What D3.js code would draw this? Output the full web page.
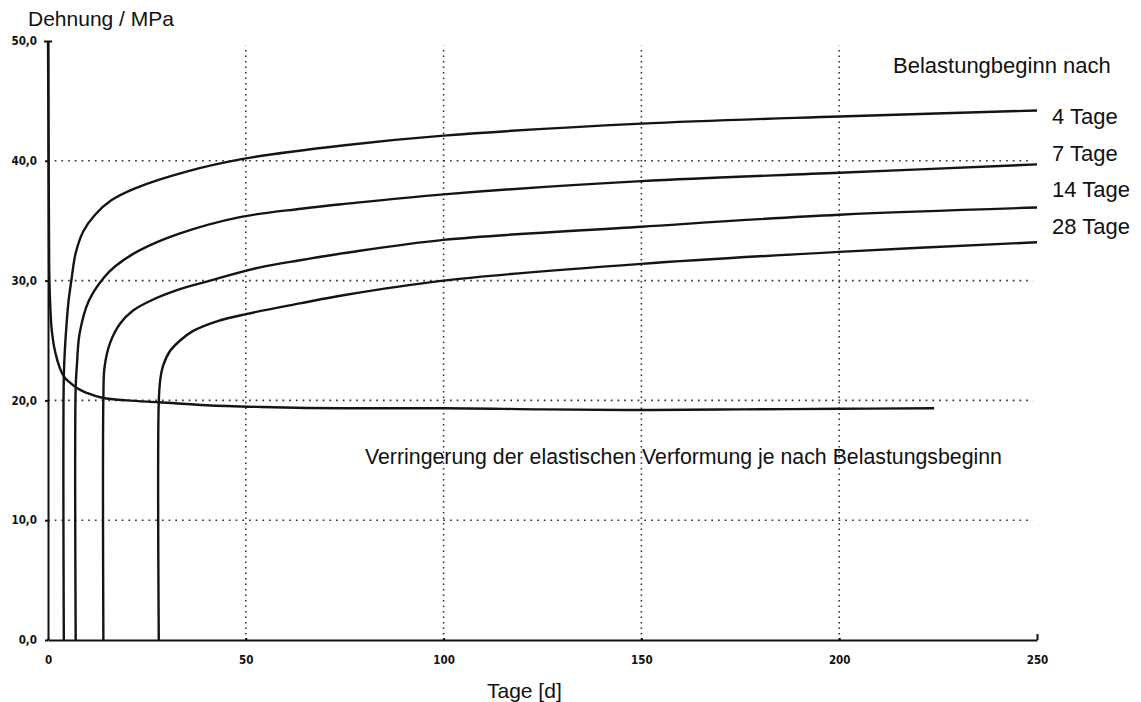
<!DOCTYPE html>
<html>
<head>
<meta charset="utf-8">
<script src="https://cdn.jsdelivr.net/npm/d3@7"></script>
<style>
  html, body { margin: 0; padding: 0; background: #fff; }
  svg { display: block; }
  .tick text { font-family: "DejaVu Sans Condensed", "DejaVu Sans", sans-serif; font-weight: bold; font-size: 11.5px; fill: #111; }
  .lbl { font-family: "Liberation Sans", Arial, sans-serif; fill: #111; }
</style>
</head>
<body>
<svg id="chart" width="1141" height="702"></svg>
<script>
// Creep curves: strain over time for loading started after 4, 7, 14 and 28 days
const loadStart = [4, 7, 14, 28];
const seriesLabels = ["4 Tage", "7 Tage", "14 Tage", "28 Tage"];

const creep4 = [[4,0],[4,22.0],[4.3,24.4],[4.7,26.4],[5.2,28.3],[5.9,30.0],[7,32.3],[8.9,34.1],[11.9,35.5],[16,36.7],[22,37.7],[35,39.1],[50,40.2],[75,41.3],[100,42.1],[150,43.1],[200,43.7],[250,44.2]];
const creep7 = [[7,0],[7,21.1],[7.3,22.9],[8,25.6],[10.3,28.3],[14,30.2],[17,31.2],[23,32.5],[33,33.9],[48.5,35.3],[64,36.0],[75,36.4],[100,37.2],[150,38.3],[200,39.0],[250,39.7]];
const creep14 = [[14,0],[14,20.2],[14.3,22.8],[15.7,24.8],[18.2,26.4],[21.5,27.5],[25.8,28.3],[32.6,29.2],[41,30.0],[53.6,31.1],[63.7,31.7],[75,32.3],[100,33.4],[150,34.5],[200,35.5],[250,36.1]];
const creep28 = [[28,0],[28,19.85],[28.4,21.8],[29.1,22.9],[30.8,24.1],[33.4,25.0],[36.7,25.8],[42.7,26.6],[50,27.2],[63.7,28.1],[75,28.8],[100,30.0],[150,31.4],[200,32.4],[250,33.2]];
const creepSeries = [creep4, creep7, creep14, creep28];

// Elastic deformation depending on the start of loading
const elastic = [[0,50],[0.3,31],[0.7,27],[1.2,25.2],[2,23.8],[3,22.7],[4,22.0],[5.5,21.5],[7,21.1],[10,20.6],[14,20.2],[20,20.0],[28,19.85],[40,19.6],[54,19.45],[75,19.35],[100,19.35],[125,19.25],[150,19.2],[175,19.25],[200,19.3],[224,19.35]];

const xTicks = [0, 50, 100, 150, 200, 250];
const yTicks = [0, 10, 20, 30, 40, 50];
const xGrid = [50, 100, 150, 200];
const yGrid = [10, 20, 30, 40];

const svg = d3.select("#chart");
const x = d3.scaleLinear().domain([0, 250]).range([48, 1037]);
const y = d3.scaleLinear().domain([0, 50]).range([640, 41]);

// dotted grid
svg.append("g").selectAll("line").data(xGrid).join("line")
  .attr("x1", d => x(d)).attr("x2", d => x(d))
  .attr("y1", y(0)).attr("y2", y(49.6))
  .attr("stroke", "#333").attr("stroke-width", 1.6)
  .attr("stroke-dasharray", "1.5,4");
svg.append("g").selectAll("line").data(yGrid).join("line")
  .attr("x1", x(0)).attr("x2", x(249))
  .attr("y1", d => y(d)).attr("y2", d => y(d))
  .attr("stroke", "#333").attr("stroke-width", 1.6)
  .attr("stroke-dasharray", "1.7,5");

// axes
const fmt = d => d3.format(".1f")(d).replace(".", ",");
const yAxis = svg.append("g").attr("transform", `translate(${x(0)},0)`)
  .call(d3.axisLeft(y).tickValues(yTicks).tickFormat(fmt).tickSize(4).tickSizeOuter(0).tickPadding(7));
yAxis.select(".domain").attr("stroke", "#111").attr("stroke-width", 2);
yAxis.selectAll(".tick line").attr("stroke", "#111").attr("stroke-width", 2)
  .attr("x2", -3);
yAxis.selectAll(".tick").filter(d => d === 50).select("line").attr("x1", 4).attr("x2", -4);

const xAxis = svg.append("g").attr("transform", `translate(0,${y(0)})`)
  .call(d3.axisBottom(x).tickValues(xTicks).tickSize(-4).tickSizeOuter(0).tickPadding(16));
xAxis.select(".domain").attr("stroke", "#111").attr("stroke-width", 2);
xAxis.selectAll(".tick line").attr("stroke", "#111").attr("stroke-width", 2)
  .attr("y2", d => d === 250 ? -6 : -2);

// curves
const creepLine = d3.line().x(d => x(d[0])).y(d => y(d[1])).curve(d3.curveCatmullRom.alpha(0.5));
svg.append("g").selectAll("path").data(creepSeries).join("path")
  .attr("d", creepLine)
  .attr("fill", "none").attr("stroke", "#141414").attr("stroke-width", 2.4)
  .attr("stroke-linejoin", "round");

const elasticLine = d3.line().x(d => x(d[0])).y(d => y(d[1])).curve(d3.curveMonotoneX);
svg.append("path").datum(elastic).attr("d", elasticLine)
  .attr("fill", "none").attr("stroke", "#141414").attr("stroke-width", 2.4);

// texts
svg.append("text").attr("class", "lbl").attr("x", 28).attr("y", 26)
  .attr("font-size", 21).text("Dehnung / MPa");
svg.append("text").attr("class", "lbl").attr("x", 487).attr("y", 698)
  .attr("font-size", 21).text("Tage [d]");
svg.append("text").attr("class", "lbl").attr("x", 893).attr("y", 73)
  .attr("font-size", 22).text("Belastungbeginn nach");
svg.append("g").selectAll("text").data(seriesLabels).join("text")
  .attr("class", "lbl").attr("x", 1052).attr("y", (d, i) => 124 + i * 36.6)
  .attr("font-size", 22).text(d => d);
svg.append("text").attr("class", "lbl").attr("x", 365).attr("y", 464)
  .attr("font-size", 21.3).text("Verringerung der elastischen Verformung je nach Belastungsbeginn");
</script>
</body>
</html>
